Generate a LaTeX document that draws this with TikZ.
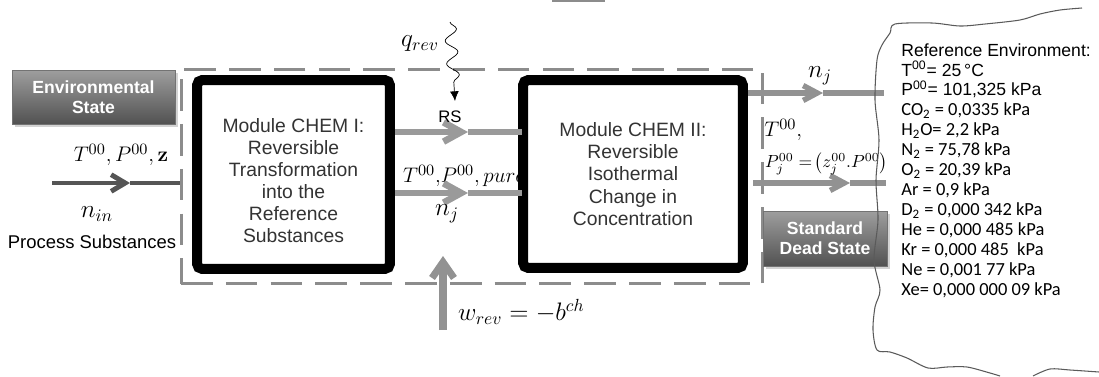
\documentclass[tikz,border=0pt]{standalone}
\usepackage[no-math]{fontspec}
\setmainfont{Liberation Sans}
\newfontfamily\calfont{Carlito}
\usetikzlibrary{arrows.meta,decorations.pathmorphing,shadows}

\definecolor{dashgray}{HTML}{8C8C8C}
\definecolor{flowgray}{HTML}{9A9A9A}
\definecolor{ingray}{HTML}{555555}
\definecolor{cloudgray}{HTML}{5A5A5A}

\tikzset{
  module/.style={draw=black, line width=5.7pt, rounded corners=3pt, fill=white,
    align=center, text=black!80, font=\fontsize{11}{12.6}\selectfont},
  statebox/.style={draw=black!55, top color=black!38, bottom color=black!68,
    text=white, align=center, font=\fontsize{10}{11.4}\selectfont\bfseries,
    drop shadow={opacity=0.35, shadow xshift=1.5pt, shadow yshift=-1.5pt}},
  system/.style={draw=dashgray, line width=1.7pt, dash pattern=on 18pt off 7.5pt},
  flow/.style={draw=flowgray, line width=3.8pt, -{Straight Barb[length=10pt,width=11pt]}},
  flowline/.style={draw=flowgray, line width=3.8pt},
  outflow/.style={draw=flowgray!95!black, line width=3.1pt, -{Straight Barb[length=8pt,width=8.5pt]}},
  outline/.style={draw=flowgray!95!black, line width=3.1pt},
  inflow/.style={draw=ingray, line width=2.8pt, -{Straight Barb[length=8pt,width=9.5pt]}},
  inline/.style={draw=ingray, line width=2.8pt},
  workflow/.style={draw=flowgray!95!black, line width=4pt, -{Straight Barb[length=9pt,width=12.5pt]}},
  heat/.style={draw=black, thin, -{Latex[length=5.5pt,width=5pt]},
    decorate, decoration={snake, amplitude=0.12cm, segment length=0.46cm, post length=0.3cm}},
  cloudline/.style={draw=cloudgray, line width=0.6pt},
  mathlbl/.style={inner sep=1pt, font=\fontsize{14}{16}\selectfont},
  midmath/.style={inner sep=1pt, font=\fontsize{12.5}{14}\selectfont},
  smallmath/.style={inner sep=0.5pt, font=\fontsize{10}{12}\selectfont},
  plain/.style={inner sep=1pt, font=\fontsize{10.5}{12}\selectfont}
}

\begin{document}
\begin{tikzpicture}[x=0.02cm, y=-0.02cm]
\useasboundingbox (0,0) rectangle (1099,376);

\draw[dashgray, line width=1.2pt] (552,1) -- (605,1);

\node[system, minimum width=11.64cm, minimum height=4.3cm] (sys) at (472,176.5) {};

\node[statebox, minimum width=3.26cm, minimum height=1.08cm] (envstate) at (93.5,97) {Environmental\\State};
\node[statebox, minimum width=2.48cm, minimum height=1.1cm] (dead) at (825,238.5) {Standard\\Dead State};

\node[midmath, anchor=west] (tpure) at (401,176) {$T^{00}{,}P^{00}{,}\,pure$};

\node[module, minimum width=3.86cm, minimum height=3.78cm] (chemI) at (293.5,174.5)
  {\rule{0pt}{15pt}Module CHEM I:\\Reversible\\Transformation\\into the\\Reference\\Substances};
\node[module, minimum width=4.4cm, minimum height=3.76cm] (chemII) at (633,174)
  {Module CHEM II:\\Reversible\\Isothermal\\Change in\\Concentration};

% process input
\coordinate (inL) at (52,183);
\coordinate (inM) at (130,183);
\draw[inflow] (inL) -- (inM);
\draw[inline] (inM) -- (inM -| sys.west);
\node[midmath] (tin) at (121,155) {$T^{00}{,}\,P^{00}{,}\,\mathbf{z}$};
\node[mathlbl] (nin) at (97,214) {$n_{in}$};
\node[plain] (proc) at (92,242) {Process Substances};

% between the modules
\coordinate (rsM) at (468,132);
\coordinate (njM) at (468,193);
\draw[flow] (rsM -| chemI.east) -- (rsM);
\draw[flowline] (rsM) -- ([xshift=2pt]rsM -| chemII.west);
\draw[flow] (njM -| chemI.east) -- (njM);
\draw[flowline] (njM) -- ([xshift=2pt]njM -| chemII.west);
\node[plain, font=\fontsize{9.5}{11}\selectfont] (rs) at (450,117) {RS};
\node[mathlbl] (njI) at (447,214) {$n_j$};

% heat and work
\coordinate (qS) at (450,22);
\coordinate (qE) at (455,101);
\draw[heat] (qS) -- (qE);
\node[mathlbl] (qrev) at (420,44) {$q_{rev}$};
\coordinate (wB) at (443,330);
\coordinate (wT) at (443,256);
\draw[workflow] (wB) -- (wT);
\node[mathlbl, anchor=west] (wrev) at (456,312) {$w_{rev}=-b^{ch}$};

% outputs
\coordinate (upM) at (823,93);
\coordinate (upE) at (884,93);
\coordinate (loM) at (850,183);
\coordinate (loE) at (886,183);
\draw[outflow] (upM -| chemII.east) -- (upM);
\draw[outline] (upM) -- (upE);
\draw[outflow] ([xshift=3pt]loM -| chemII.east) -- (loM);
\draw[outline] (loM) -- (loE);
\node[mathlbl] (njII) at (820,76) {$n_j$};
\node[midmath, anchor=west, inner sep=0pt] (tout) at (764,130) {$T^{00}{,}$};
\node[smallmath, anchor=west] (pout) at (764,164) {$P_j^{00}=\!\left(z_j^{00}.P^{00}\right)$};

% reference environment
\draw[cloudline] plot[smooth] coordinates {(1082,8) (1060,10) (1040,14) (1020,20) (985,24)
  (960,26) (932,23) (895,24) (890,33) (882,45) (877,60) (875,100) (879,140) (876,180)
  (878,220) (874,260) (880,290) (875,307) (873,330) (877,350) (890,352) (907,358)
  (928,368) (947,367) (967,367) (990,373) (1000,376)};
\draw[cloudline] plot[smooth] coordinates {(1033,376) (1050,369) (1070,370) (1099,372)};

\node[anchor=north west, align=left, inner sep=0pt, font=\fontsize{10}{11.35}\selectfont] (envlist) at (901,43)
  {Reference Environment:\\
   T\textsuperscript{00}= 25\,°C\\
   P\textsuperscript{00}= 101,325 kPa\\
   {\calfont\fontsize{10.5}{11.35}\selectfont CO\textsubscript{2} = 0,0335 kPa}\\
   {\calfont\fontsize{10.5}{11.35}\selectfont H\textsubscript{2}O= 2,2 kPa}\\
   {\calfont\fontsize{10.5}{11.35}\selectfont N\textsubscript{2} = 75,78 kPa}\\
   {\calfont\fontsize{10.5}{11.35}\selectfont O\textsubscript{2} = 20,39 kPa}\\
   {\calfont\fontsize{10.5}{11.35}\selectfont Ar = 0,9 kPa}\\
   {\calfont\fontsize{10.5}{11.35}\selectfont D\textsubscript{2} = 0,000 342 kPa}\\
   {\calfont\fontsize{10.5}{11.35}\selectfont He = 0,000 485 kPa}\\
   {\calfont\fontsize{10.5}{11.35}\selectfont Kr = 0,000 485 \ kPa}\\
   {\calfont\fontsize{10.5}{11.35}\selectfont Ne = 0,001 77 kPa}\\
   {\calfont\fontsize{10.5}{11.35}\selectfont Xe= 0,000 000 09 kPa}};
\end{tikzpicture}
\end{document}
